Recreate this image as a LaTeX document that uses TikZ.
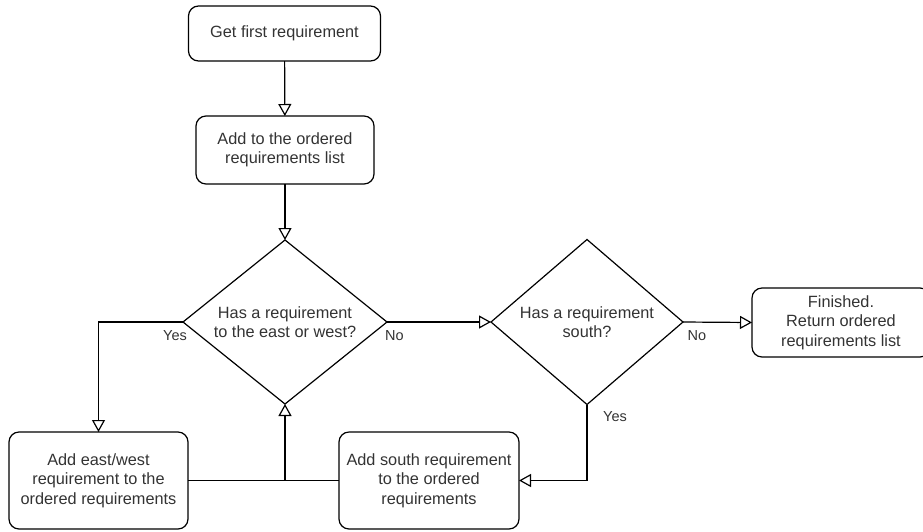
\documentclass[tikz,border=0pt]{standalone}
\usepackage{fontspec}
\setmainfont{Liberation Sans}
\usetikzlibrary{shapes.geometric,arrows.meta}

\begin{document}
\begin{tikzpicture}[x=1pt,y=-1pt,
  every node/.style={outer sep=0pt, text=black!80, font=\fontsize{16.3}{19.4}\selectfont},
  box/.style={draw, line width=1.2pt, rounded corners=10pt, align=center, inner sep=0pt},
  choice/.style={draw, diamond, line width=1.2pt, aspect=1.25, inner sep=0pt, align=center},
  tag/.style={font=\fontsize{14.5}{17}\selectfont},
  arr/.style={line width=1.2pt, -{Triangle[open, length=12pt, width=13pt]}},
  line width=1.2pt]
\clip (0,0) rectangle (923,531);

\node[box, minimum width=192pt, minimum height=55pt] (first) at (284.5,33.5) {Get first requirement};
\node[box, minimum width=178pt, minimum height=68pt] (add) at (285,150) {Add to the ordered\\requirements list};

\node[choice, minimum width=204pt, minimum height=164pt] (dew) at (285,322) {Has a requirement\\to the east or west?};
\node[choice, minimum width=192pt, minimum height=165pt] (ds) at (587,322) {Has a requirement\\south?};
\node[box, minimum width=178pt, minimum height=69pt] (fin) at (841,322.5) {Finished.\\Return ordered\\requirements list};

\node[box, minimum width=179pt, minimum height=97pt] (ew) at (98.5,480.5) {Add east/west\\requirement to the\\ordered requirements};
\node[box, minimum width=180pt, minimum height=97pt] (south) at (429,480.5) {Add south requirement\\to the ordered\\requirements};

\node[tag] (yesew) at (175,336) {Yes};
\node[tag] (noew) at (394.5,336) {No};
\node[tag] (nos) at (697,336) {No};
\node[tag] (yess) at (615,417) {Yes};

\coordinate (join) at (ew.east -| dew.south);

\draw[arr] (first) -- (add);
\draw[arr] (add) -- (dew.north);
\draw[arr] (dew.west) -| (ew.north);
\draw[arr] (dew.east) -- (ds.west);
\draw[arr] (ds.east) -- (fin.west);
\draw[arr] (ds.south) |- (south.east);
\draw (ew.east) -- (south.west);
\draw[arr] (join) -- (dew.south);
\end{tikzpicture}
\end{document}
